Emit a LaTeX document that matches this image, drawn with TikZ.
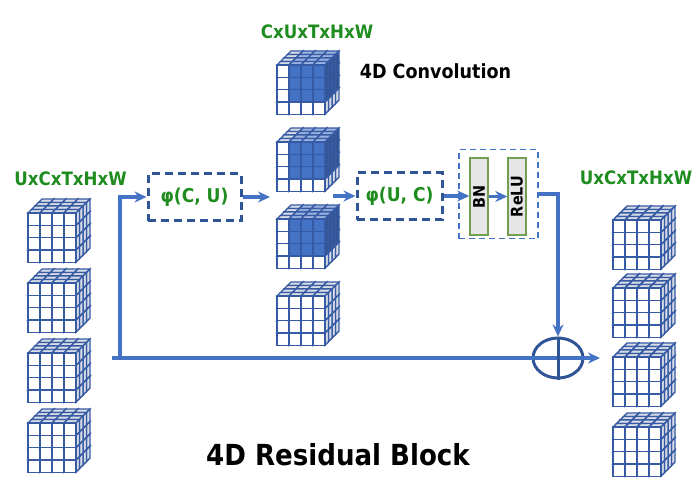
\documentclass[tikz,border=0pt]{standalone}
\usepackage{fontspec}
\setmainfont{DejaVu Sans Condensed}
\usepackage{xcolor}
\usepackage{tikz}
\usetikzlibrary{arrows.meta,shapes.geometric}

\definecolor{arrowblue}{RGB}{68,114,196}
\definecolor{darkblue}{RGB}{47,85,151}
\definecolor{cubeline}{RGB}{55,90,165}
\definecolor{cubeblue}{RGB}{68,114,196}
\definecolor{cubetop}{RGB}{214,220,229}
\definecolor{textgreen}{RGB}{30,140,30}
\definecolor{layergreen}{RGB}{112,160,80}
\definecolor{layergray}{RGB}{231,230,230}

% one 4x4x4 block, front top-left corner at (#1,#2), #3=1 gives the blue core
\newcommand{\gridcube}[3]{%
\foreach \k in {3,2,1,0} {
\foreach \j in {3,2,1,0} {
\foreach \i in {0,1,2,3} {
\pgfmathsetmacro{\cx}{#1+12*\i+3.5*\k}
\pgfmathsetmacro{\cy}{#2+12.3*\j-3.5*\k}
\pgfmathtruncatemacro{\inblue}{#3*(\i>0)*(\j<3)}
\ifnum\inblue=1
\def\frontcol{cubeblue}\def\sidecol{cubeblue!75!black}\def\topcol{cubeblue!55!white}
\else
\def\frontcol{white}\def\sidecol{cubetop}\def\topcol{cubetop}
\fi
\filldraw[cubeline, line width=1.4pt, fill=\topcol] (\cx,\cy) -- ++(3.5,-3.5) -- ++(12,0) -- ++(-3.5,3.5) -- cycle;
\filldraw[cubeline, line width=1.4pt, fill=\sidecol] (\cx+12,\cy) -- ++(3.5,-3.5) -- ++(0,12.3) -- ++(-3.5,3.5) -- cycle;
\filldraw[cubeline, line width=1.4pt, fill=\frontcol] (\cx,\cy) rectangle ++(12,12.3);
}
}
}
}

\tikzset{
flow/.style={draw=arrowblue, line width=3.2pt, -{Stealth[length=12pt,width=11pt]}},
phibox/.style={draw=darkblue, line width=3pt, dash pattern=on 8pt off 5pt, text=textgreen,
  font=\bfseries\fontsize{19}{22}\selectfont, minimum height=47pt},
layerbox/.style={draw=layergreen, fill=layergray, line width=1.4pt, minimum width=18pt,
  minimum height=77pt, inner sep=0pt},
layertext/.style={rotate=90, font=\bfseries\fontsize{16}{18}\selectfont},
dimlabel/.style={text=textgreen, font=\bfseries\fontsize{18.5}{22}\selectfont, anchor=base},
}

\begin{document}
\begin{tikzpicture}[x=1pt,y=-1pt]
\useasboundingbox (0,0) rectangle (698,495);

% input, convolution and output blocks
\foreach \y in {213,283,353,423} {
\gridcube{28}{\y}{0}
}
\foreach \y/\f in {65/1,142/1,219/1,296/0} {
\gridcube{277}{\y}{\f}
}
\foreach \y in {220,288,357,427} {
\gridcube{613}{\y}{0}
}

% labels
\node[dimlabel] (inlabel) at (70.5,185) {UxCxTxHxW};
\node[dimlabel] (convlabel) at (317,38) {CxUxTxHxW};
\node[dimlabel] (outlabel) at (636,184) {UxCxTxHxW};
\node[anchor=base, font=\bfseries\fontsize{19.5}{22}\selectfont] (convname) at (435.5,78) {4D Convolution};
\node[anchor=base, font=\bfseries\fontsize{29}{32}\selectfont] (title) at (338,465) {4D Residual Block};

% boxes
\node[phibox, minimum width=93pt] (phiCU) at (194.5,197) {φ(C, U)};
\node[phibox, minimum width=85pt] (phiUC) at (399.5,196) {φ(U, C)};
\node[draw=arrowblue, line width=1.6pt, dash pattern=on 6pt off 4pt, minimum width=79pt,
  minimum height=89pt] (bnrelu) at (498.5,194) {};
\node[layerbox] (BN) at (479,196.5) {};
\node[layertext] (BNtext) at (BN) {BN};
\node[layerbox] (ReLU) at (517,196.5) {};
\node[layertext] (ReLUtext) at (ReLU) {ReLU};
\node[draw=darkblue, line width=3pt, ellipse, minimum width=50pt, minimum height=40pt] (sum) at (558,358) {};

% connectors
\coordinate (convin) at (270,197);
\coordinate (convout) at (333,196);
\coordinate (skipin) at (112,358);
\coordinate (skipbend) at (120,358);
\coordinate (out) at (600,358);
\draw[flow] (phiCU.east) -- (convin);
\draw[flow] (convout) -- (phiUC.west);
\draw[flow] (phiUC.east) -- (phiUC.east -| BN.west);
\draw[flow] (BN.east) -- (ReLU.west);
\draw[flow] (bnrelu.east) -| (sum.north);
\draw[flow] (skipin) -- (out);
\draw[flow] (skipbend) |- (phiCU.west);
\draw[darkblue, line width=3pt] (sum.north) -- (sum.south);
\end{tikzpicture}
\end{document}
